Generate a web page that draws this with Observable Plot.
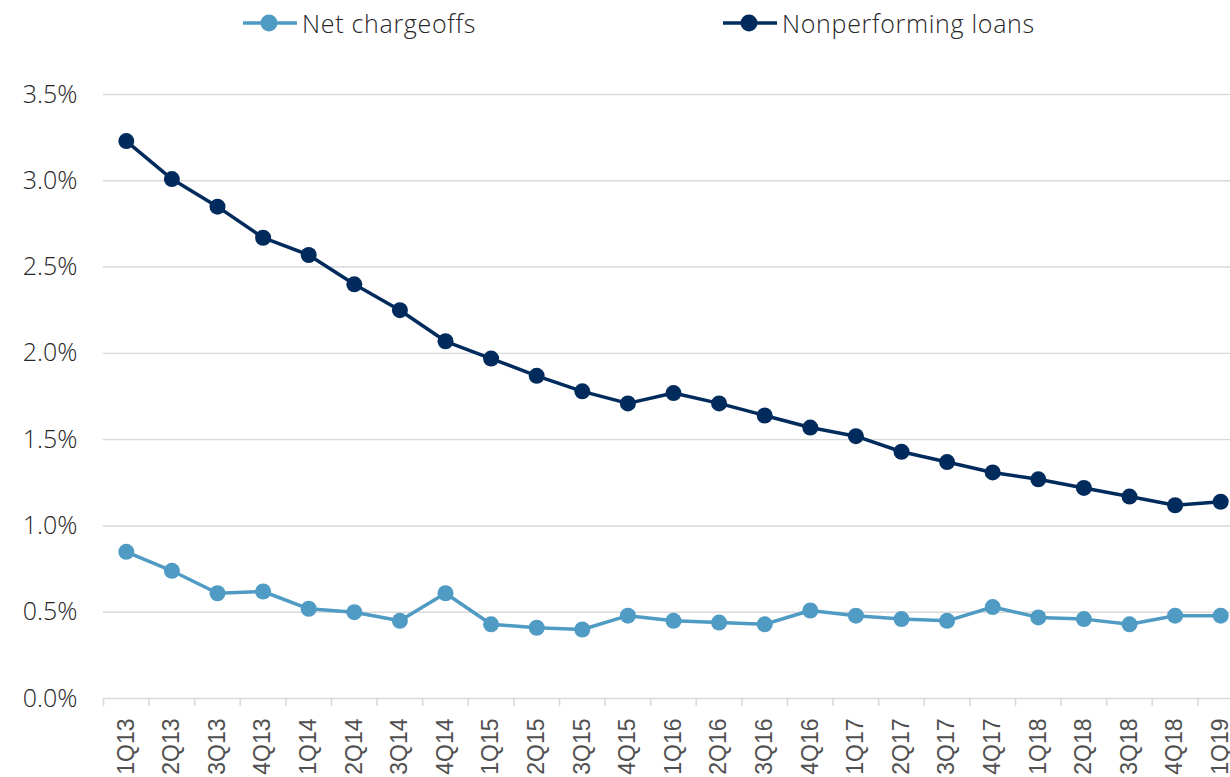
<!DOCTYPE html>
<html><head><meta charset="utf-8">
<script src="https://cdn.jsdelivr.net/npm/d3@7"></script>
<script src="https://cdn.jsdelivr.net/npm/@observablehq/plot@0.6"></script>
<style>
body{margin:0;background:#fff;overflow:hidden;width:1230px}
#legend{position:relative;height:50px;width:1230px;font-family:"Open Sans",sans-serif;font-weight:300;font-size:25px;letter-spacing:0.7px;color:#262626}
.item{position:absolute;top:1px;height:44px;display:flex;align-items:center;white-space:nowrap}
.item svg{margin-right:5px}
#chart{width:1230px;overflow:hidden}
#chart svg{max-width:none !important}
</style></head><body>
<div id="legend"></div><div id="chart"></div>
<script>
const quarters = ["1Q13","2Q13","3Q13","4Q13","1Q14","2Q14","3Q14","4Q14","1Q15","2Q15","3Q15","4Q15","1Q16","2Q16","3Q16","4Q16","1Q17","2Q17","3Q17","4Q17","1Q18","2Q18","3Q18","4Q18","1Q19"];
const netChargeoffs = [0.85,0.74,0.61,0.62,0.52,0.50,0.45,0.61,0.43,0.41,0.40,0.48,0.45,0.44,0.43,0.51,0.48,0.46,0.45,0.53,0.47,0.46,0.43,0.48,0.48];
const nonperformingLoans = [3.23,3.01,2.85,2.67,2.57,2.40,2.25,2.07,1.97,1.87,1.78,1.71,1.77,1.71,1.64,1.57,1.52,1.43,1.37,1.31,1.27,1.22,1.17,1.12,1.14];
const seriesNames = ["Net chargeoffs","Nonperforming loans"];
const seriesColors = ["#4f9bc4","#002b5c"];
const yTicks = [0,0.5,1,1.5,2,2.5,3,3.5];

const rows = [];
quarters.forEach((q,i)=>{
  rows.push({i, q, value: netChargeoffs[i], series: seriesNames[0]});
});
quarters.forEach((q,i)=>{
  rows.push({i, q, value: nonperformingLoans[i], series: seriesNames[1]});
});
const idx = d3.range(quarters.length);
const bounds = d3.range(quarters.length + 1).map(k => k - 0.5);

// legend
const legendPos = [243, 723];
const legend = document.getElementById("legend");
seriesNames.forEach((name,k)=>{
  const div = document.createElement("div");
  div.className = "item";
  div.style.left = legendPos[k] + "px";
  div.innerHTML = `<svg width="54" height="20"><line x1="0" x2="54" y1="10" y2="10" stroke="${seriesColors[k]}" stroke-width="3.5"/><circle cx="26" cy="10" r="8.5" fill="${seriesColors[k]}"/></svg><span>${name}</span>`;
  legend.appendChild(div);
});

const chart = Plot.plot({
  width: 1243,
  height: 727,
  marginLeft: 103,
  marginRight: 0,
  marginTop: 44,
  marginBottom: 79,
  style: {fontFamily: "'Open Sans', sans-serif", background: "#fff", maxWidth: "none"},
  x: {type: "linear", domain: [-0.5, quarters.length - 0.5], axis: null},
  y: {domain: [0, 3.5], axis: null},
  color: {domain: seriesNames, range: seriesColors},
  marks: [
    Plot.gridY(yTicks.filter(d => d > 0), {stroke: "#d9d9d9", strokeOpacity: 1, strokeWidth: 1.4}),
    Plot.ruleY([0], {stroke: "#d9d9d9", strokeWidth: 1.6}),
    Plot.axisY(yTicks, {tickSize: 0, tickPadding: 26, tickFormat: d => d.toFixed(1) + "%", fontSize: 25, fontWeight: 300, fill: "#262626", letterSpacing: 0.7, label: null}),
    Plot.axisX(bounds, {tickSize: 8, stroke: "#d9d9d9", strokeWidth: 1.6, strokeOpacity: 1, tickFormat: () => "", label: null}),
    Plot.axisX(idx, {tickSize: 0, tickPadding: 20, tickRotate: -90, tickFormat: i => quarters[i], fontSize: 23, fontFamily: "'Liberation Sans', Arial, sans-serif", fill: "#505050", label: null}),
    Plot.line(rows, {x: "i", y: "value", z: "series", stroke: "series", strokeWidth: 3.5}),
    Plot.dot(rows, {x: "i", y: "value", fill: "series", r: 8})
  ]
});
chart.style.maxWidth = "none";
document.getElementById("chart").appendChild(chart);
</script>
</body></html>
